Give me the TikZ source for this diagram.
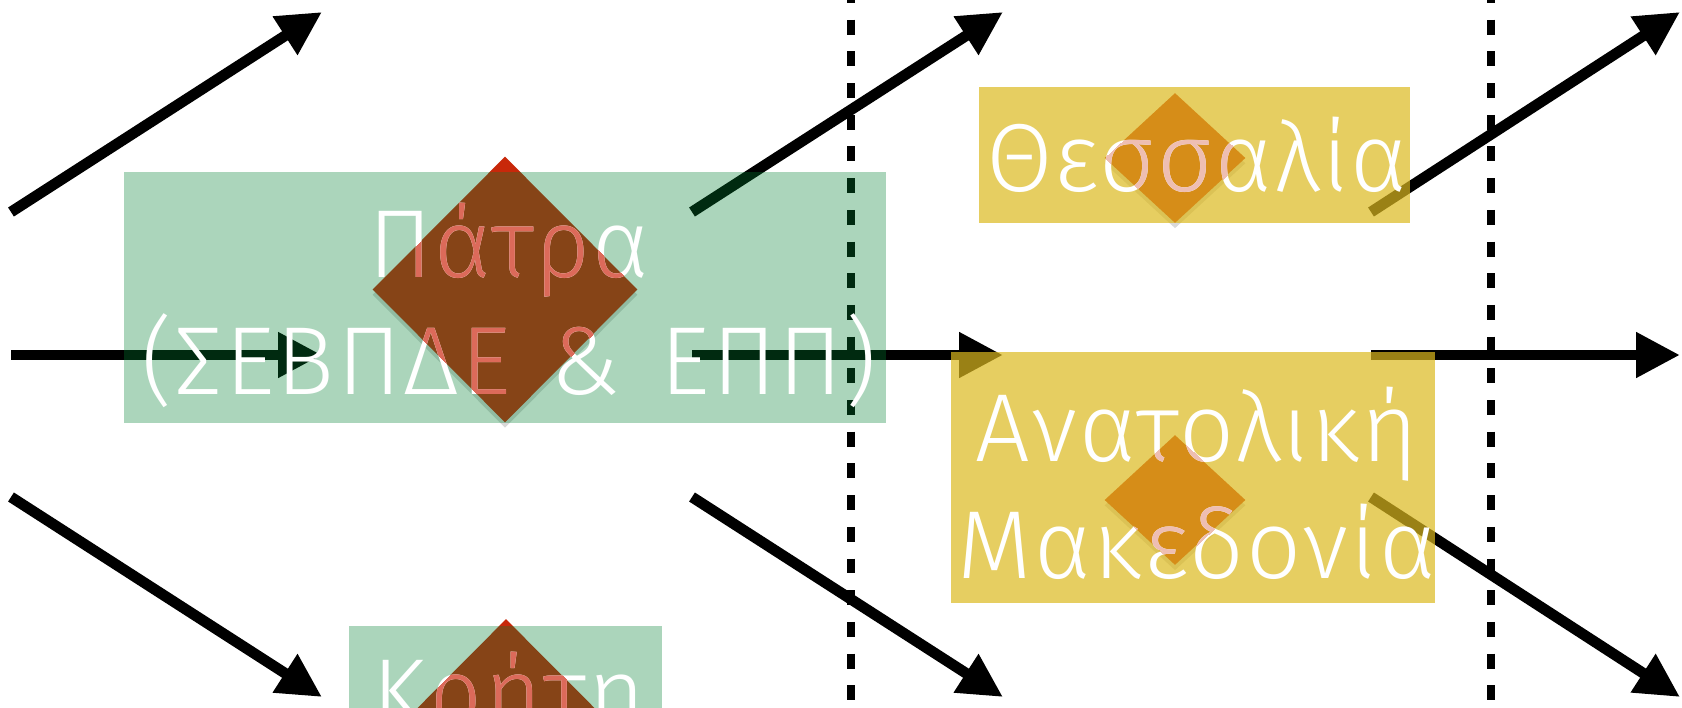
\documentclass[tikz,border=0pt]{standalone}
\usepackage{fontspec}
\setmainfont{Fira Sans Light}[LetterSpace=2.5, WordSpace=1.35]
\usetikzlibrary{arrows.meta,shapes.geometric,shadows}
\definecolor{zonegreen}{RGB}{0,128,50}
\definecolor{zoneyellow}{RGB}{220,185,30}
\definecolor{seatred}{RGB}{200,40,10}
\definecolor{tintgreen}{RGB}{220,106,90}
\definecolor{tintyellow}{RGB}{238,190,178}
\tikzset{
    flow/.style={
           line width=0.215cm
           },
    border/.style={
           line width=0.145cm,
           dash pattern=on 0.3cm off 0.334cm
           },
    greenzone/.style={
           rectangle, inner sep=0pt,
           fill=zonegreen, fill opacity=0.33
           },
    yellowzone/.style={
           rectangle, inner sep=0pt,
           fill=zoneyellow, fill opacity=0.7
           },
    seat/.style={
           diamond, inner sep=0pt,
           fill=seatred,
           drop shadow={shadow xshift=0pt, shadow yshift=-3pt, opacity=0.3}
           },
    place/.style={
           align=center, anchor=base, inner sep=0pt,
           text=white,
           font=\fontsize{55}{66.3}\selectfont
           }
}

\begin{document}
\begin{tikzpicture}[x=0.02cm, y=-0.02cm, >={Triangle[length=0.88cm,width=0.86cm]}]
   \useasboundingbox (0,0) rectangle (1682,707);
   \clip (0,0) rectangle (1682,707);
   % arrows
   \coordinate (a1) at (11,212);   \coordinate (A1) at (322,12);
   \coordinate (a2) at (11,355);   \coordinate (A2) at (322,355);
   \coordinate (a3) at (11,497);   \coordinate (A3) at (322,697);
   \coordinate (b1) at (692,212);  \coordinate (B1) at (1003,12);
   \coordinate (b2) at (692,355);  \coordinate (B2) at (1003,355);
   \coordinate (b3) at (692,497);  \coordinate (B3) at (1003,697);
   \coordinate (c1) at (1371,212); \coordinate (C1) at (1680,12);
   \coordinate (c2) at (1371,355); \coordinate (C2) at (1680,355);
   \coordinate (c3) at (1371,497); \coordinate (C3) at (1680,697);
   \path[->, flow]
    (a1) edge (A1) (a2) edge (A2) (a3) edge (A3)
    (b1) edge (B1) (b2) edge (B2) (b3) edge (B3)
    (c1) edge (C1) (c2) edge (C2) (c3) edge (C3);
   % borders
   \draw[border] (851,-12) -- (851,720);
   \draw[border] (1491,-12) -- (1491,720);
   % seats
   \node[seat, minimum width=5.3cm, minimum height=5.32cm] (patraSeat) at (505,289.5) {};
   \node[seat, minimum width=5.3cm, minimum height=5.32cm] (kritiSeat) at (506,752) {};
   \node[seat, minimum width=2.82cm, minimum height=2.6cm] (thessaliaSeat) at (1175,158) {};
   \node[seat, minimum width=2.82cm, minimum height=2.6cm] (anatolikiSeat) at (1175,500) {};
   % zones
   \node[greenzone, minimum width=15.24cm, minimum height=5.02cm] (patraZone) at (505,297.5) {};
   \node[greenzone, minimum width=6.26cm, minimum height=2.72cm] (kritiZone) at (505.5,694) {};
   \node[yellowzone, minimum width=8.62cm, minimum height=2.72cm] (thessaliaZone) at (1194.5,155) {};
   \node[yellowzone, minimum width=9.68cm, minimum height=5.02cm] (anatolikiZone) at (1193,477.5) {};
   % names
   \node[place] (patraName) at (509,394) {Πάτρα\\(ΣΕΒΠΔΕ \& ΕΠΠ)};
   \node[place] (kritiName) at (509,726) {Κρήτη};
   \node[place] (thessaliaName) at (1197,191) {Θεσσαλία};
   \node[place] (anatolikiName) at (1197,578) {Ανατολική\\Μακεδονία};
   \begin{scope}
    \clip (patraSeat.north) -- (patraSeat.east) -- (patraSeat.south) -- (patraSeat.west) -- cycle;
    \node[place, text=tintgreen] (patraTint) at (509,394) {Πάτρα\\(ΣΕΒΠΔΕ \& ΕΠΠ)};
   \end{scope}
   \begin{scope}
    \clip (kritiSeat.north) -- (kritiSeat.east) -- (kritiSeat.south) -- (kritiSeat.west) -- cycle;
    \node[place, text=tintgreen] (kritiTint) at (509,726) {Κρήτη};
   \end{scope}
   \begin{scope}
    \clip (thessaliaSeat.north) -- (thessaliaSeat.east) -- (thessaliaSeat.south) -- (thessaliaSeat.west) -- cycle;
    \node[place, text=tintyellow] (thessaliaTint) at (1197,191) {Θεσσαλία};
   \end{scope}
   \begin{scope}
    \clip (anatolikiSeat.north) -- (anatolikiSeat.east) -- (anatolikiSeat.south) -- (anatolikiSeat.west) -- cycle;
    \node[place, text=tintyellow] (anatolikiTint) at (1197,578) {Ανατολική\\Μακεδονία};
   \end{scope}
\end{tikzpicture}
\end{document}
